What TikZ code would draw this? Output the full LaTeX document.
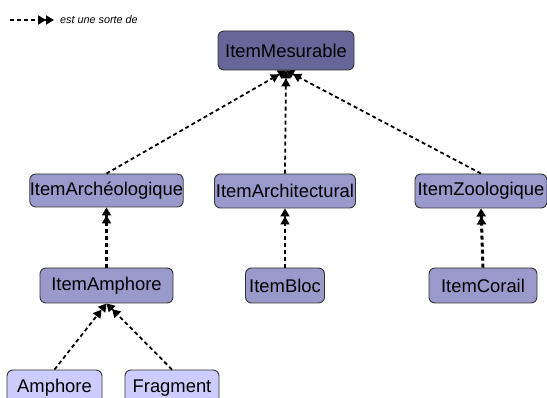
\documentclass[tikz,border=0pt]{standalone}
\usepackage{fontspec}
\setmainfont{Liberation Sans}
\usetikzlibrary{arrows.meta}
\definecolor{cTop}{HTML}{666699}
\definecolor{cMid}{HTML}{9999CC}
\definecolor{cLow}{HTML}{CCCCFF}
\definecolor{cBorder}{HTML}{333333}
\tikzset{
  box/.style={draw=cBorder, line width=0.9pt, rounded corners=6pt, inner sep=0pt,
    font=\fontsize{18.4}{21}\selectfont, text=black},
  topbox/.style={box, fill=cTop},
  midbox/.style={box, fill=cMid},
  lowbox/.style={box, fill=cLow},
  isa/.style={dashed, dash pattern=on 4pt off 3pt, line width=1.8pt,
    -{Triangle[length=8pt,width=9pt]Triangle[length=8pt,width=9pt]}},
  isathick/.style={isa, line width=3pt},
}
\begin{document}
\begin{tikzpicture}[x=1pt,y=-1pt]
\useasboundingbox (0,0) rectangle (547,398);
\clip (0,0) rectangle (547,398);
% legend
\coordinate (lgA) at (10,20);
\coordinate (lgB) at (54,20);
\draw[isa] (lgA) -- (lgB);
\node[anchor=west, inner sep=0pt, font=\fontsize{10.8}{12}\selectfont\itshape] (lgT) at (60,20) {est une sorte de};
% nodes
\node[topbox, minimum width=136pt, minimum height=39pt] (mes) at (286,50.5) {ItemMesurable};
\node[midbox, minimum width=151pt, minimum height=33pt] (arc) at (106.5,190.5) {ItemArchéologique};
\node[midbox, minimum width=141pt, minimum height=34pt] (arch) at (285,191) {ItemArchitectural};
\node[midbox, minimum width=132pt, minimum height=34pt] (zoo) at (481,191) {ItemZoologique};
\node[midbox, minimum width=133pt, minimum height=35pt] (iamph) at (106.5,285.5) {ItemAmphore};
\node[midbox, minimum width=79pt, minimum height=35pt] (bloc) at (285,285.5) {ItemBloc};
\node[midbox, minimum width=108pt, minimum height=35pt] (cor) at (483,285.5) {ItemCorail};
\node[lowbox, minimum width=95pt, minimum height=36pt] (amph) at (54.5,388) {Amphore};
\node[lowbox, minimum width=94pt, minimum height=36pt] (frag) at (172,388) {Fragment};
% edges
\draw[isa] (arc.north) -- (mes.south);
\draw[isa] (arch.north) -- (mes.south);
\draw[isa] (zoo.north) -- (mes.south);
\draw[isathick] (iamph.north) -- (arc.south);
\draw[isa] (bloc.north) -- (arch.south);
\draw[isathick] (cor.north) -- (zoo.south);
\draw[isa] (amph.north) -- (iamph.south);
\draw[isa] (frag.north) -- (iamph.south);
\end{tikzpicture}
\end{document}
